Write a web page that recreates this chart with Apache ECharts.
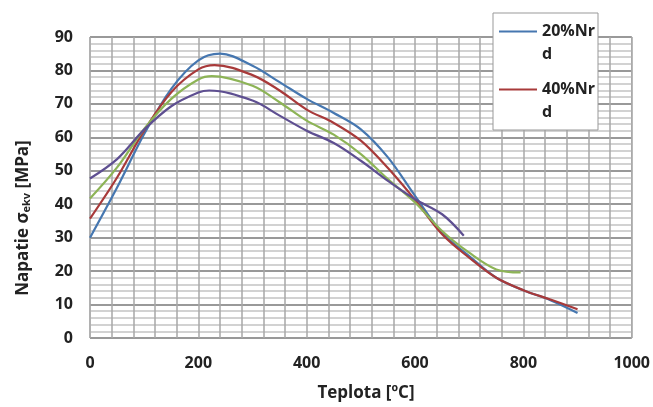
<!DOCTYPE html>
<html>
<head>
<meta charset="utf-8">
<script src="https://cdn.jsdelivr.net/npm/echarts@6/dist/echarts.min.js"></script>
<style>html,body{margin:0;padding:0;background:#fff}#c{width:653px;height:407px}</style>
</head>
<body>
<div id="c"></div>
<script>
var xTicks = [0, 200, 400, 600, 800, 1000];
var yTicks = [0, 10, 20, 30, 40, 50, 60, 70, 80, 90];
var seriesNames = ['20%Nrd', '40%Nrd', 'green', 'purple'];

var tBlue = [0, 50, 100, 150, 200, 240, 300, 350, 400, 450, 500, 550, 600, 650, 700, 750, 800, 850, 900];
var vBlue = [30, 45, 61, 74.5, 83, 85, 81.4, 76.5, 71.5, 67.3, 62.4, 54, 42.5, 31.5, 24.5, 18, 14.3, 11.3, 7.5];

var tRed = [0, 50, 100, 150, 200, 230, 300, 350, 400, 450, 500, 550, 600, 650, 700, 750, 800, 850, 900];
var vRed = [35.7, 48, 62, 73.5, 80.3, 81.6, 78.6, 74, 68.3, 64.3, 59, 50.8, 41.3, 31, 24, 18, 14.3, 11.5, 8.6];

var tGreen = [0, 50, 100, 150, 200, 225, 300, 350, 400, 450, 500, 550, 600, 650, 700, 750, 795];
var vGreen = [41.7, 51, 62.5, 71.5, 77.3, 78.3, 75.4, 70.5, 65, 60.8, 55, 47.5, 40.5, 32, 25.5, 20.5, 19.6];

var tPurple = [0, 50, 100, 150, 200, 220, 300, 350, 400, 450, 500, 550, 600, 650, 690];
var vPurple = [47.7, 53.5, 62.3, 69.3, 73.4, 74, 71, 66.5, 62, 58.3, 53, 47, 41.5, 37, 30.6];

function pairs(t, v) { return t.map(function (x, i) { return [x, v[i]]; }); }

var FONT = '"Open Sans", "Liberation Sans", sans-serif';
var chart = echarts.init(document.getElementById('c'), null, {renderer: 'canvas'});

function mk(name, t, v, color) {
  return {
    name: name, type: 'line', data: pairs(t, v), smooth: 0.35,
    symbol: 'none', lineStyle: {color: color, width: 2.2}, itemStyle: {color: color}, z: 3
  };
}

chart.setOption({
  animation: false,
  backgroundColor: '#fff',
  grid: {left: 90, right: 21, top: 37, bottom: 69, show: true, borderColor: '#999', borderWidth: 1, backgroundColor: '#fff'},
  xAxis: {
    type: 'value', min: xTicks[0], max: xTicks[xTicks.length - 1], interval: 200,
    axisLine: {show: false}, axisTick: {show: false},
    axisLabel: {margin: 17, color: '#222', fontFamily: FONT, fontWeight: 'bold', fontSize: 16,
      formatter: function (v) { return String(v); }},
    splitLine: {show: true, lineStyle: {color: '#a8a8a8', width: 1.5}},
    minorTick: {show: false, splitNumber: 5},
    minorSplitLine: {show: true, lineStyle: {color: '#a8a8a8', width: 1.5}}
  },
  yAxis: {
    type: 'value', min: yTicks[0], max: yTicks[yTicks.length - 1], interval: 10,
    axisLine: {show: false}, axisTick: {show: false},
    axisLabel: {margin: 17, color: '#222', fontFamily: FONT, fontWeight: 'bold', fontSize: 16},
    splitLine: {show: true, lineStyle: {color: '#999', width: 2}},
    minorTick: {show: false, splitNumber: 5},
    minorSplitLine: {show: true, lineStyle: {color: '#c4c4c4', width: 1.5}}
  },
  legend: {
    data: [seriesNames[0], seriesNames[1]],
    orient: 'vertical', left: 499, top: -3, itemGap: -11,
    icon: 'rect', itemWidth: 38, itemHeight: 2, padding: 0, z: 6,
    formatter: function (n) { return ' \n' + n.slice(0, 5) + '\n' + n.slice(5); },
    textStyle: {fontFamily: FONT, fontWeight: 'bold', fontSize: 16, color: '#222', lineHeight: 23}
  },
  graphic: [
    {type: 'rect', z: 5, shape: {x: 493, y: 13, width: 105, height: 117}, style: {fill: '#fff', stroke: '#999', lineWidth: 1}},
    {type: 'text', z: 5, x: 366, y: 393,
     style: {text: 'Teplota [ºC]', font: 'bold 17px ' + FONT, fill: '#222', align: 'center', verticalAlign: 'middle'}},
    {type: 'text', z: 5, x: 23, y: 218, rotation: Math.PI / 2,
     style: {text: 'Napatie σ{sub|ekv} [MPa]', font: 'bold 17px ' + FONT, fill: '#222', align: 'center', verticalAlign: 'middle',
       rich: {sub: {fontSize: 11, fontWeight: 'bold', fontFamily: FONT, fill: '#222', verticalAlign: 'bottom', padding: [8, 0, 0, 0]}}}}
  ],
  series: [
    mk(seriesNames[0], tBlue, vBlue, '#4677b0'),
    mk(seriesNames[1], tRed, vRed, '#a83a3a'),
    mk(seriesNames[2], tGreen, vGreen, '#8db456'),
    mk(seriesNames[3], tPurple, vPurple, '#5e4f91')
  ]
});
</script>
</body>
</html>
